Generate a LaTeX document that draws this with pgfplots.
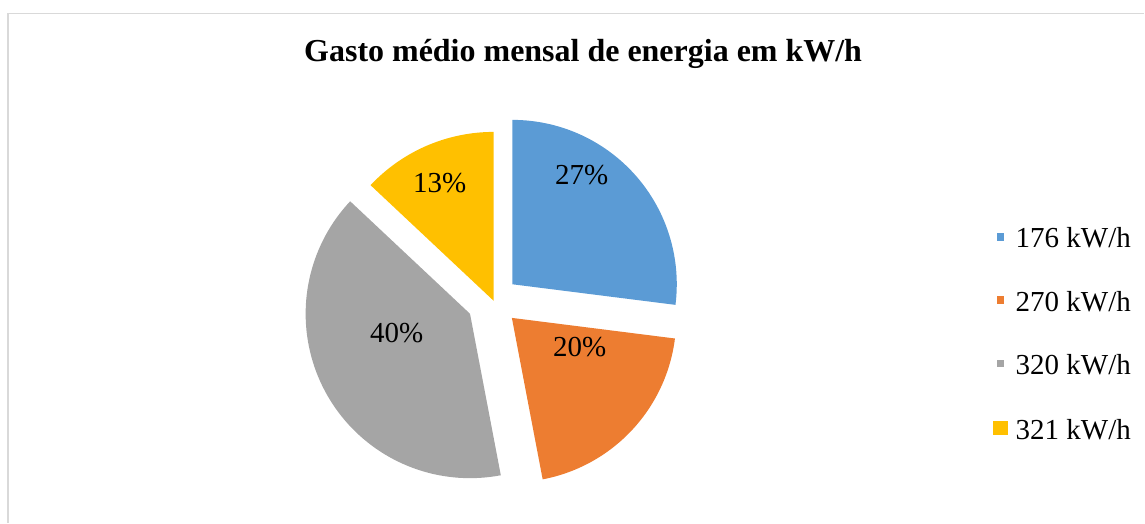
\documentclass[border=0pt]{standalone}
\usepackage{pgfplots}
\pgfplotsset{compat=1.18}
\usepackage{fontspec}
\setmainfont{Liberation Serif}

\definecolor{cblue}{HTML}{5B9BD5}
\definecolor{corange}{HTML}{ED7D31}
\definecolor{cgrey}{HTML}{A5A5A5}
\definecolor{cyellow}{HTML}{FFC000}
\definecolor{frame}{HTML}{D9D9D9}

% pie centre and radius, in pixels of the reference
\def\cx{494}
\def\cy{301}
\def\rr{164.5}

\begin{document}
\begin{tikzpicture}
\begin{axis}[width=572.5pt, height=261.5pt, scale only axis,
    xmin=0, xmax=1145, ymin=0, ymax=523, y dir=reverse,
    hide axis, clip=false]
    \path (axis cs:0,0) rectangle (axis cs:1145,523);
    \draw[frame, line width=0.8pt] (axis cs:8,523) -- (axis cs:8,13.5) -- (axis cs:1145,13.5);

    % values: 27, 20, 40, 13 (%) -> angles value*3.6, clockwise from top
    % 176 kW/h : 27 %, exploded 25
    \addplot[fill=cblue, draw=none, domain=0:27*3.6, samples=60]
        ({\cx + 25*sin(48.6) + \rr*sin(x)}, {\cy - 25*cos(48.6) - \rr*cos(x)})
        -- (axis cs:{\cx + 25*sin(48.6)}, {\cy - 25*cos(48.6)}) -- cycle;
    % 270 kW/h : 20 %
    \addplot[fill=corange, draw=none, domain=97.2:97.2+20*3.6, samples=60]
        ({\cx + 25*sin(133.2) + \rr*sin(x)}, {\cy - 25*cos(133.2) - \rr*cos(x)})
        -- (axis cs:{\cx + 25*sin(133.2)}, {\cy - 25*cos(133.2)}) -- cycle;
    % 320 kW/h : 40 %
    \addplot[fill=cgrey, draw=none, domain=169.2:169.2+40*3.6, samples=80]
        ({\cx + 27*sin(241.2) + \rr*sin(x)}, {\cy - 27*cos(241.2) - \rr*cos(x)})
        -- (axis cs:{\cx + 27*sin(241.2)}, {\cy - 27*cos(241.2)}) -- cycle;
    % 321 kW/h : 13 %
    \addplot[fill=cyellow, draw=none, domain=313.2:313.2+13*3.6, samples=40]
        ({\cx + 169*sin(x)}, {\cy - 169*cos(x)})
        -- (axis cs:\cx,\cy) -- cycle;

    % data labels
    \begin{scope}[font=\fontsize{14.5}{17}\selectfont]
    \node[anchor=base] at (axis cs:582,185) {27\%};
    \node[anchor=base] at (axis cs:580,357) {20\%};
    \node[anchor=base] at (axis cs:397,343) {40\%};
    \node[anchor=base] at (axis cs:440,193) {13\%};

    % legend
    \fill[cblue]   (axis cs:997.3,233.3) rectangle (axis cs:1005,241);
    \fill[corange] (axis cs:997.3,296.7) rectangle (axis cs:1005,304.3);
    \fill[cgrey]   (axis cs:997.3,360)   rectangle (axis cs:1005,367.7);
    \fill[cyellow] (axis cs:994,421)     rectangle (axis cs:1008.3,435);
    \node[anchor=base west, inner sep=0pt] at (axis cs:1016,248) {176 kW/h};
    \node[anchor=base west, inner sep=0pt] at (axis cs:1016,312) {270 kW/h};
    \node[anchor=base west, inner sep=0pt] at (axis cs:1016,375) {320 kW/h};
    \node[anchor=base west, inner sep=0pt] at (axis cs:1016,440) {321 kW/h};
    \end{scope}

    \node[anchor=base, font=\fontsize{16}{19}\selectfont\bfseries]
        at (axis cs:583.5,62) {Gasto médio mensal de energia em kW/h};
\end{axis}
\end{tikzpicture}
\end{document}
